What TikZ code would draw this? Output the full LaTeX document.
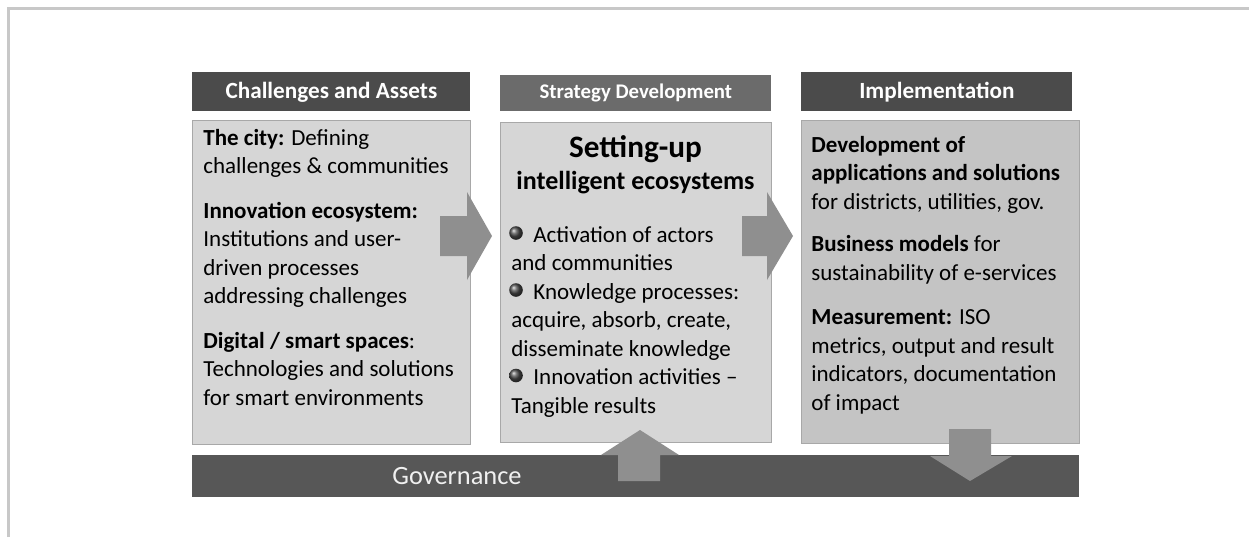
\documentclass[tikz,border=0pt]{standalone}
\usepackage{fontspec}
\setmainfont{Carlito}
\usetikzlibrary{positioning}

\definecolor{framegray}{HTML}{C8C8C8}
\definecolor{headdark}{HTML}{4B4B4B}
\definecolor{headmid}{HTML}{6B6B6B}
\definecolor{panelfill}{HTML}{D6D6D6}
\definecolor{panelfilldark}{HTML}{C4C4C4}
\definecolor{panelline}{HTML}{A8A8A8}
\definecolor{arrowgray}{HTML}{8F8F8F}
\definecolor{bargray}{HTML}{575757}

\tikzset{
  header/.style={fill=headdark, text=white, anchor=north west, inner sep=0pt,
    font=\bfseries\fontsize{11.6}{14}\selectfont},
  panel/.style={fill=panelfill, draw=panelline, line width=0.5pt,
    anchor=north west, inner sep=0pt},
  % base anchor of these nodes sits on the last line
  paneltext/.style={anchor=base west, inner sep=0pt, align=left,
    font=\fontsize{11.5}{14.25}\selectfont},
  fatarrow/.style={fill=arrowgray},
}

\begin{document}
\begin{tikzpicture}[x=0.5pt,y=-0.5pt]
  \useasboundingbox (0,0) rectangle (1249,537);
  % frame
  \draw[framegray, line width=1.5pt] (8,537) -- (8,8) -- (1249,8);

  % column headers
  \node[header, minimum width=139pt, minimum height=19.5pt] (hchal) at (192,72) {Challenges and Assets};
  \node[header, fill=headmid, minimum width=135.5pt, minimum height=18pt,
    font=\bfseries\fontsize{10.4}{12}\selectfont] (hstrat) at (500,75) {Strategy Development};
  \node[header, minimum width=135.5pt, minimum height=19.5pt] (himpl) at (801,72) {Implementation};

  % panels
  \node[panel, minimum width=139pt, minimum height=162pt] (chal) at (192,120) {};
  \node[panel, minimum width=135.5pt, minimum height=160pt] (strat) at (500,122) {};
  \node[panel, fill=panelfilldark, minimum width=139pt, minimum height=161.5pt] (impl) at (801,120) {};

  % governance bar
  \node[anchor=north west, fill=bargray, minimum width=443.5pt, minimum height=21pt,
    inner sep=0pt] (gov) at (192,455) {};

  % block arrows
  \fill[fatarrow] (440,216) -- (467,216) -- (467,192) -- (492,236) -- (467,280) -- (467,256) -- (440,256) -- cycle;
  \fill[fatarrow] (742,216) -- (767,216) -- (767,192) -- (793,236) -- (767,280) -- (767,256) -- (742,256) -- cycle;
  \fill[fatarrow] (618,481) -- (618,455) -- (601,455) -- (640,430) -- (679,455) -- (660,455) -- (660,481) -- cycle;
  \fill[fatarrow] (949,429) -- (991,429) -- (991,456) -- (1012,456) -- (970,481) -- (930,456) -- (949,456) -- cycle;

  \node[text=white!94!black, font=\fontsize{13.2}{15}\selectfont] (govtext) at (457,476) {Governance};

  % panel texts
  \node[paneltext] (chaltext) at (203,405) {\textbf{The city:} Defining\\
    challenges \& communities\\[8pt]
    \textbf{Innovation ecosystem:}\\
    Institutions and user-\\
    driven processes\\
    addressing challenges\\[8pt]
    \textbf{Digital / smart spaces}:\\
    Technologies and solutions\\
    for smart environments};

  \node[anchor=base, font=\bfseries\fontsize{15.6}{18}\selectfont] (setup) at (635.5,157) {Setting-up};
  \node[anchor=base, font=\bfseries\fontsize{13}{15}\selectfont] (intel) at (635.5,189) {intelligent ecosystems};
  \node[paneltext] (strattext) at (511,413) {\hspace*{11pt}Activation of actors\\
    and communities\\
    \hspace*{11pt}Knowledge processes:\\
    acquire, absorb, create,\\
    disseminate knowledge\\
    \hspace*{11pt}Innovation activities --\\
    Tangible results};
  \foreach \y in {242,299,384.5}
    \shade[ball color=black!70] (516,\y-9) circle (3.4pt);

  \node[paneltext] (impltext) at (811,410) {\textbf{Development of}\\
    \textbf{applications and solutions}\\
    for districts, utilities, gov.\\[7pt]
    \textbf{Business models} for\\
    sustainability of e-services\\[8pt]
    \textbf{Measurement:} ISO\\
    metrics, output and result\\
    indicators, documentation\\
    of impact};
\end{tikzpicture}
\end{document}
